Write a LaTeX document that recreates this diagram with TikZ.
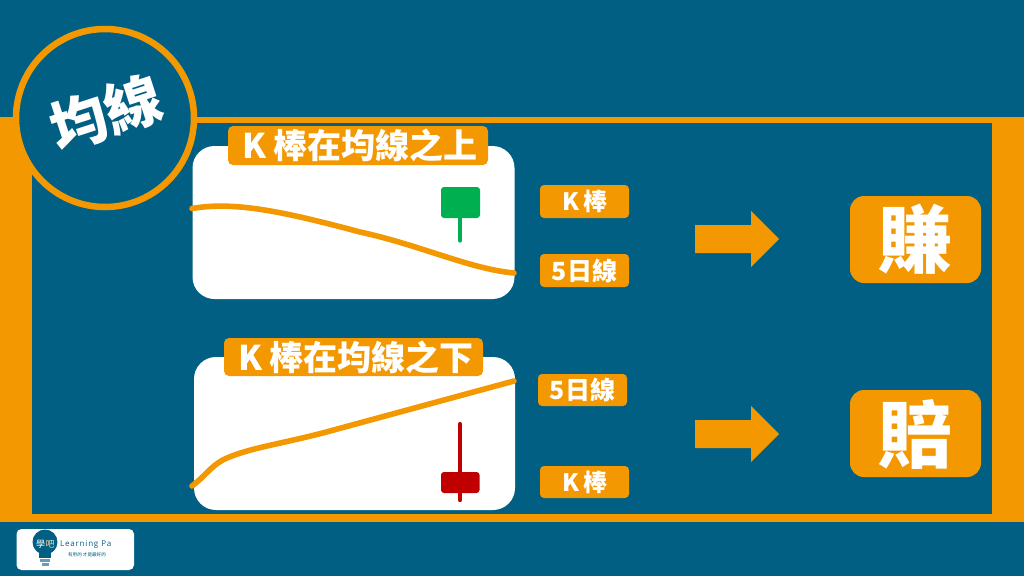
\documentclass[tikz,border=0pt]{standalone}
\usepackage{fontspec}
\setmainfont{Noto Sans CJK TC}[BoldFont={* Bold}]
\newfontfamily\hv{Noto Sans CJK TC Black}
\newfontfamily\lat{Open Sans}
\definecolor{bg}{HTML}{005F83}
\definecolor{org}{HTML}{F39800}
\definecolor{grn}{HTML}{00B050}
\definecolor{rd}{HTML}{C00000}
\tikzset{
  x=1pt,y=-1pt,
  tag/.style={fill=org,rounded corners=#1},
  txt/.style={text=white,inner sep=0pt,font=\hv},
  card/.style={fill=white,rounded corners=22pt},
  ma/.style={org,line width=5.6pt,line cap=round},
}
\newcommand{\bigarrow}[1]{\fill[org] (695,#1-14)--(751,#1-14)--(751,#1-28)--(779,#1)--(751,#1+28)--(751,#1+14)--(695,#1+14)--cycle;}
\begin{document}
\begin{tikzpicture}
\useasboundingbox (0,0) rectangle (1024,576);
\fill[bg] (0,0) rectangle (1024,576);
% frame
\fill[org] (0,117) rectangle (1024,123);
\fill[org] (0,117) rectangle (32,522);
\fill[org] (992,117) rectangle (1024,522);
\fill[org] (0,514) rectangle (1024,522);
% circle
\draw[org,fill=bg,line width=6.5pt] (105,118) circle (89pt);
\node[txt,rotate=18,font=\hv\fontsize{57}{57}\selectfont] (title) at (106,113) {均線};
% card 1
\fill[card] (192.5,146) rectangle (514.5,299);
\fill[grn,rounded corners=3pt] (441,187) rectangle (480,218);
\draw[grn,line width=4.4pt,line cap=round] (460,216) -- (460,240.5);
\draw[ma] (192,208.5) .. controls (235,201) and (285,212) .. (360,232) .. controls (420,245) and (470,269) .. (514,273);
\fill[tag=5pt] (228,126) rectangle (488,165);
\node[txt,font=\hv\fontsize{34}{34}\selectfont] (t1) at (360,145.5) {K\hspace{7pt}棒在均線之上};
% card 2
\fill[card] (194,357) rectangle (515,510);
\fill[tag=5pt] (224,338) rectangle (483,376);
\node[txt,font=\hv\fontsize{34}{34}\selectfont] (t2) at (356,357) {K\hspace{7pt}棒在均線之下};
\draw[ma] (192,486) .. controls (208,474) and (212,463) .. (232,456) .. controls (255,447) and (290,442) .. (330,431) -- (514,381);
\draw[rd,line width=4.4pt,line cap=round] (460,424) -- (460,500);
\fill[rd,rounded corners=3pt] (441,472) rectangle (479.5,493);
% side labels
\fill[tag=4pt] (540,185) rectangle (629,218);
\node[txt,font=\hv\fontsize{24}{24}\selectfont] (k1) at (585,201.5) {K\hspace{4pt}棒};
\fill[tag=4pt] (540,254) rectangle (629,287);
\node[txt,font=\hv\fontsize{25}{25}\selectfont] (m1) at (584.5,270.5) {5日線};
\fill[tag=4pt] (538,374) rectangle (627,406);
\node[txt,font=\hv\fontsize{25}{25}\selectfont] (m2) at (582.5,390) {5日線};
\fill[tag=4pt] (540,466) rectangle (629,498);
\node[txt,font=\hv\fontsize{24}{24}\selectfont] (k2) at (585,482) {K\hspace{4pt}棒};
% arrows
\bigarrow{239}
\bigarrow{434}
% results
\fill[tag=14pt] (850,196) rectangle (981,283);
\node[txt,font=\hv\fontsize{74}{74}\selectfont] (r1) at (915.5,239.5) {賺};
\fill[tag=14pt] (850,390) rectangle (981,477);
\node[txt,font=\hv\fontsize{74}{74}\selectfont] (r2) at (915.5,434) {賠};
% logo
\fill[white,rounded corners=5pt] (16.5,529) rectangle (134,570);
\fill[bg] (45,542) circle (12.5pt);
\fill[bg] (39,550) rectangle (51,558);
\fill[bg!60] (40,559) rectangle (50,562);
\fill[bg!60] (41.5,563) rectangle (48.5,566);
\node[inner sep=0pt,text=white,font=\fontsize{9}{9}\selectfont] (lg1) at (40.5,544) {學};
\node[inner sep=0pt,text=org!30!white,font=\fontsize{9}{9}\selectfont] (lg2) at (50,544) {吧};
\node[inner sep=0pt,text=bg,anchor=west,font=\lat\fontsize{8}{8}\selectfont\addfontfeature{LetterSpace=10}] (lg3) at (60,545) {Learning Pa};
\node[inner sep=0pt,text=bg,font=\fontsize{4.6}{5}\selectfont] (lg4) at (87,555) {有用的 才是最好的};
\end{tikzpicture}
\end{document}
